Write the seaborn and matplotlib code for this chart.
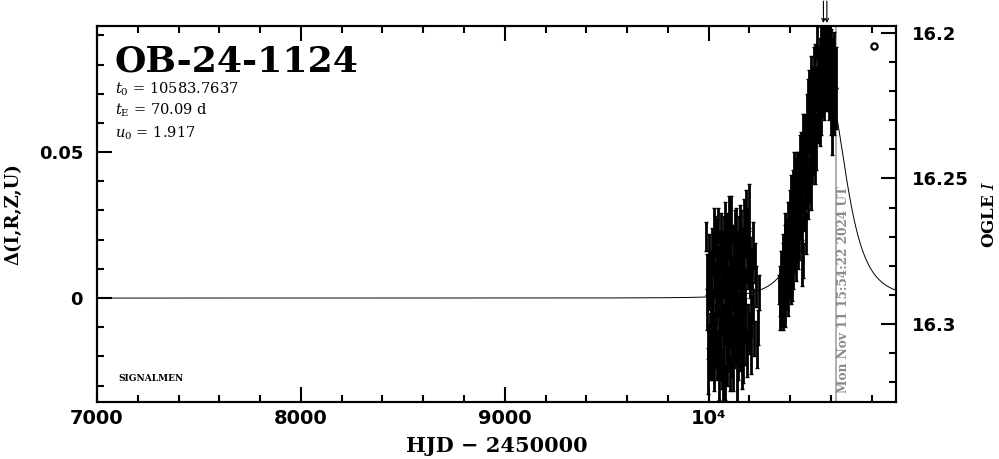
import numpy as np
import pandas as pd
import seaborn as sns
import matplotlib
matplotlib.use("Agg")
import matplotlib.pyplot as plt
from matplotlib.ticker import MultipleLocator, FixedLocator, FixedFormatter
import matplotlib.transforms as mtransforms

# ---------------- data ----------------
event_name = "OB-24-1124"
t0 = 10583.7637
tE = 70.09
u0 = 1.917
date_stamp = "Mon Nov 11 15:54:22 2024 UT"
t_now = 10626.2

season1_t = [9988, 9993, 9999, 10004, 10008, 10012, 10016, 10019, 10023, 10026,
             10030, 10033, 10037, 10040, 10043, 10047, 10050, 10053, 10057, 10060,
             10063, 10066, 10069, 10072, 10075, 10078, 10081, 10084, 10087, 10090,
             10093, 10096, 10099, 10102, 10105, 10108, 10111, 10114, 10117, 10120,
             10123, 10126, 10129, 10132, 10135, 10138, 10141, 10144, 10147, 10150,
             10153, 10156, 10159, 10162, 10165, 10168, 10171, 10174, 10177, 10180,
             10184, 10188, 10192, 10196, 10200, 10205, 10210, 10216, 10223, 10231,
             10240,
             9991, 9996, 10002, 10006, 10010, 10014, 10018, 10021, 10025, 10028,
             10032, 10035, 10039, 10042, 10045, 10049, 10052, 10055, 10058, 10062,
             10065, 10068, 10071, 10074, 10077, 10080, 10083, 10086, 10089, 10092,
             10095, 10098, 10101, 10104, 10107, 10110, 10113, 10116, 10119, 10122,
             10125, 10128, 10131, 10134, 10137, 10140, 10143, 10146, 10149, 10152,
             10155, 10158, 10161, 10164, 10167, 10170, 10173, 10176, 10179, 10182,
             10186, 10190, 10194, 10198, 10202, 10207, 10213, 10219, 10227, 10236,
             10245]
season1_d = [0.021, -0.004, -0.025, 0.002, -0.012, 0.010, -0.020, 0.015, -0.003, 0.024,
             -0.016, 0.006, -0.009, 0.019, -0.022, 0.001, 0.012, -0.027, 0.008, -0.014,
             0.022, -0.005, -0.030, 0.016, -0.018, 0.003, 0.026, -0.010, 0.011, -0.023,
             0.005, 0.020, -0.007, -0.019, 0.013, 0.000, 0.027, -0.013, 0.008, -0.025,
             0.017, -0.002, 0.010, -0.017, 0.023, -0.008, 0.004, -0.021, 0.014, -0.004,
             0.025, -0.011, 0.007, -0.024, 0.018, 0.001, -0.015, 0.012, 0.021, -0.009,
             0.029, -0.020, 0.009, 0.031, -0.012, 0.015, -0.006, 0.018, -0.014, 0.004,
             -0.010,
             0.008, -0.015, 0.014, -0.021, 0.004, -0.008, 0.018, -0.013, 0.009, -0.026,
             0.021, -0.001, -0.017, 0.011, 0.025, -0.011, 0.005, 0.017, -0.021, -0.002,
             0.013, -0.024, 0.006, 0.020, -0.009, -0.029, 0.014, 0.002, 0.023, -0.015,
             -0.004, 0.010, 0.028, -0.026, 0.016, -0.011, 0.004, -0.020, 0.019, 0.007,
             -0.016, 0.024, -0.005, 0.002, -0.028, 0.016, 0.009, -0.013, 0.020, -0.019,
             0.006, -0.003, 0.022, -0.010, 0.011, -0.022, 0.026, -0.006, 0.003, -0.017,
             0.013, 0.024, -0.008, 0.017, 0.006, -0.018, 0.010, -0.003, 0.012, -0.016,
             0.002]
season1_e = [0.005, 0.007, 0.008, 0.006, 0.007, 0.006, 0.008, 0.007, 0.006, 0.007,
             0.008, 0.006, 0.007, 0.008, 0.006, 0.007, 0.006, 0.008, 0.007, 0.006,
             0.007, 0.008, 0.006, 0.007, 0.008, 0.006, 0.007, 0.006, 0.008, 0.007,
             0.006, 0.007, 0.008, 0.006, 0.007, 0.006, 0.008, 0.007, 0.006, 0.007,
             0.008, 0.006, 0.007, 0.006, 0.008, 0.007, 0.006, 0.007, 0.008, 0.006,
             0.007, 0.006, 0.008, 0.007, 0.006, 0.007, 0.008, 0.006, 0.007, 0.006,
             0.008, 0.007, 0.006, 0.008, 0.007, 0.006, 0.007, 0.008, 0.006, 0.007,
             0.006,
             0.007, 0.006, 0.008, 0.007, 0.006, 0.007, 0.006, 0.008, 0.007, 0.006,
             0.007, 0.008, 0.006, 0.007, 0.006, 0.008, 0.007, 0.006, 0.007, 0.008,
             0.006, 0.007, 0.006, 0.008, 0.007, 0.006, 0.007, 0.008, 0.006, 0.007,
             0.006, 0.008, 0.007, 0.006, 0.007, 0.006, 0.008, 0.007, 0.006, 0.007,
             0.008, 0.006, 0.007, 0.006, 0.008, 0.007, 0.006, 0.007, 0.008, 0.006,
             0.007, 0.006, 0.008, 0.007, 0.006, 0.007, 0.008, 0.006, 0.007, 0.006,
             0.008, 0.007, 0.006, 0.007, 0.006, 0.008, 0.007, 0.006, 0.007, 0.008,
             0.006]

season2_t = [10346, 10349, 10353, 10356, 10360, 10363, 10367, 10370, 10374, 10377,
             10381, 10384, 10388, 10391, 10395, 10398, 10402, 10405, 10409, 10412,
             10416, 10419, 10423, 10426, 10430, 10433, 10437, 10440, 10444, 10447,
             10451, 10454, 10458, 10461, 10465, 10468, 10472, 10475, 10479, 10482,
             10486, 10489, 10493, 10496, 10500, 10503, 10507, 10510, 10514, 10517,
             10521, 10524, 10528, 10531, 10535, 10538, 10542, 10545, 10549, 10552,
             10556, 10559, 10563, 10566, 10570, 10573, 10577, 10580, 10584, 10587,
             10591, 10594, 10598, 10601, 10605, 10609, 10613, 10618, 10623,
             10348, 10351, 10355, 10358, 10362, 10365, 10369, 10372, 10376, 10379,
             10383, 10386, 10390, 10393, 10397, 10400, 10404, 10407, 10411, 10414,
             10418, 10421, 10425, 10428, 10432, 10435, 10439, 10442, 10446, 10449,
             10453, 10456, 10460, 10463, 10467, 10470, 10474, 10477, 10481, 10484,
             10488, 10491, 10495, 10498, 10502, 10505, 10509, 10512, 10516, 10519,
             10523, 10526, 10530, 10533, 10537, 10540, 10544, 10547, 10551, 10554,
             10558, 10561, 10565, 10568, 10572, 10575, 10579, 10582, 10586, 10589,
             10593, 10596, 10600, 10603, 10607, 10611, 10616, 10620, 10625]
season2_d = [0.003, -0.005, 0.009, -0.002, 0.006, -0.004, 0.016, -0.001, 0.023, -0.002,
             0.014, 0.007, 0.027, 0.001, 0.021, 0.006, 0.035, 0.004, 0.021, 0.032,
             0.011, 0.043, 0.018, 0.034, 0.012, 0.032, 0.021, 0.044, 0.020, 0.039,
             0.031, 0.051, 0.012, 0.048, 0.013, 0.043, 0.032, 0.056, 0.039, 0.064,
             0.034, 0.056, 0.071, 0.042, 0.063, 0.037, 0.058, 0.072, 0.048, 0.070,
             0.055, 0.081, 0.051, 0.070, 0.079, 0.059, 0.077, 0.066, 0.087, 0.063,
             0.084, 0.076, 0.097, 0.067, 0.086, 0.079, 0.073, 0.100, 0.070, 0.085,
             0.074, 0.088, 0.064, 0.077, 0.056, 0.077, 0.063, 0.077, 0.065,
             0.000, 0.006, -0.004, 0.009, 0.003, 0.012, 0.001, 0.010, 0.018, 0.004,
             0.020, 0.002, 0.015, 0.026, 0.011, 0.030, 0.014, 0.024, 0.007, 0.038,
             0.026, 0.015, 0.040, 0.023, 0.044, 0.029, 0.016, 0.035, 0.048, 0.026,
             0.041, 0.022, 0.036, 0.055, 0.029, 0.049, 0.040, 0.022, 0.052, 0.045,
             0.068, 0.039, 0.060, 0.050, 0.075, 0.046, 0.064, 0.055, 0.080, 0.062,
             0.047, 0.073, 0.060, 0.088, 0.068, 0.074, 0.058, 0.082, 0.072, 0.090,
             0.068, 0.080, 0.088, 0.074, 0.092, 0.070, 0.083, 0.076, 0.090, 0.068,
             0.080, 0.072, 0.086, 0.070, 0.082, 0.068, 0.084, 0.072, 0.079]
season2_e = [0.005, 0.006, 0.007, 0.006, 0.005, 0.007, 0.006, 0.007, 0.006, 0.008,
             0.006, 0.007, 0.006, 0.007, 0.008, 0.006, 0.007, 0.006, 0.007, 0.006,
             0.008, 0.007, 0.006, 0.007, 0.006, 0.008, 0.007, 0.006, 0.007, 0.006,
             0.007, 0.006, 0.008, 0.007, 0.006, 0.007, 0.006, 0.007, 0.008, 0.006,
             0.007, 0.006, 0.007, 0.006, 0.008, 0.007, 0.006, 0.007, 0.006, 0.007,
             0.008, 0.006, 0.007, 0.006, 0.007, 0.006, 0.008, 0.007, 0.006, 0.007,
             0.006, 0.007, 0.008, 0.006, 0.007, 0.006, 0.007, 0.008, 0.006, 0.007,
             0.006, 0.007, 0.008, 0.006, 0.007, 0.006, 0.007, 0.006, 0.007,
             0.006, 0.005, 0.006, 0.007, 0.006, 0.007, 0.006, 0.008, 0.007, 0.006,
             0.007, 0.006, 0.008, 0.007, 0.006, 0.007, 0.006, 0.007, 0.008, 0.006,
             0.007, 0.006, 0.008, 0.007, 0.006, 0.007, 0.006, 0.007, 0.008, 0.006,
             0.007, 0.006, 0.007, 0.008, 0.006, 0.007, 0.006, 0.007, 0.006, 0.008,
             0.007, 0.006, 0.007, 0.006, 0.008, 0.007, 0.006, 0.007, 0.006, 0.007,
             0.008, 0.006, 0.007, 0.006, 0.007, 0.008, 0.006, 0.007, 0.006, 0.007,
             0.006, 0.008, 0.007, 0.006, 0.007, 0.006, 0.007, 0.008, 0.006, 0.007,
             0.006, 0.007, 0.006, 0.008, 0.007, 0.006, 0.007, 0.006, 0.007]

offscale_t = [10563, 10580]
legend_point = (10811, 0.0862)

x_ticks = [7000, 8000, 9000, 10000]
x_tick_labels = ["7000", "8000", "9000", "10⁴"]
y_ticks = [0.0, 0.05]
y_tick_labels = ["0", "0.05"]
mag_ticks = [16.2, 16.25, 16.3]
mag_tick_labels = ["16.2", "16.25", "16.3"]

# ---------------- style ----------------
sns.set_style("ticks")
plt.rcParams["font.family"] = ["DejaVu Serif", "DejaVu Sans"]
plt.rcParams["mathtext.fontset"] = "dejavuserif"
for k in ["text.color", "axes.labelcolor", "xtick.color", "ytick.color",
          "axes.edgecolor"]:
    plt.rcParams[k] = "black"

fig = plt.figure(figsize=(9.99, 4.59), dpi=100)
ax = fig.add_axes([0.0971, 0.1242, 0.8000, 0.8192])

# model light curve from the event parameters
tt = np.linspace(7000, 10925, 4000)
uu = np.sqrt(u0 ** 2 + ((tt - t0) / tE) ** 2)
amp = (uu ** 2 + 2) / (uu * np.sqrt(uu ** 2 + 4))
model = pd.DataFrame({"t": tt, "d": 2.5 * np.log10(amp)})
sns.lineplot(data=model, x="t", y="d", ax=ax, color="black", lw=0.7,
             estimator=None, sort=False, zorder=3)

obs = pd.DataFrame({"t": season1_t + season2_t,
                    "d": season1_d + season2_d,
                    "e": season1_e + season2_e})
ax.errorbar(obs["t"], obs["d"], yerr=obs["e"], fmt="none", ecolor="black",
            elinewidth=2.0, capsize=1.6, capthick=1.0, zorder=4)

ax.axvline(t_now, color="#9a9a9a", lw=1.1, zorder=2)
ax.text(10663, -0.0325, date_stamp, rotation=90, ha="center", va="bottom",
        color="#8a8a8a", fontsize=8.7, fontweight="bold", family="DejaVu Serif")

ax.plot([legend_point[0]], [legend_point[1]], marker="o", mfc="none", mec="black",
        ms=4.5, mew=1.6, ls="none")

trans = mtransforms.blended_transform_factory(ax.transData, ax.transAxes)
for t in offscale_t:
    ax.annotate("", xy=(t, 1.008), xycoords=trans, xytext=(t, 1.066),
                textcoords=trans, annotation_clip=False,
                arrowprops=dict(arrowstyle="->", lw=0.8, color="black",
                                mutation_scale=6, shrinkA=0, shrinkB=0))

ax.set_xlim(7000, 10920)
ax.set_ylim(-0.0356, 0.0932)

# text annotations
ax.text(0.0225, 0.880, event_name, transform=ax.transAxes, fontsize=26,
        ha="left", va="baseline", family="DejaVu Serif", fontweight="bold")
ax.text(0.0225, 0.820, r"$t_0$ = 10583.7637", transform=ax.transAxes,
        fontsize=10.5, ha="left", va="baseline")
ax.text(0.0225, 0.765, r"$t_\mathrm{E}$ = 70.09 d", transform=ax.transAxes,
        fontsize=10.5, ha="left", va="baseline")
ax.text(0.0225, 0.703, r"$u_0$ = 1.917", transform=ax.transAxes,
        fontsize=10.5, ha="left", va="baseline")
ax.text(0.027, 0.055, "SIGNALMEN", transform=ax.transAxes, fontsize=6.5,
        ha="left", va="baseline", fontweight="bold")

# axes formatting
for s in ax.spines.values():
    s.set_linewidth(1.5)
    s.set_color("black")
    s.set_visible(True)

ax.xaxis.set_major_locator(FixedLocator(x_ticks))
ax.xaxis.set_major_formatter(FixedFormatter(x_tick_labels))
ax.xaxis.set_minor_locator(MultipleLocator(200))
ax.yaxis.set_major_locator(FixedLocator(y_ticks))
ax.yaxis.set_major_formatter(FixedFormatter(y_tick_labels))
ax.yaxis.set_minor_locator(MultipleLocator(0.01))
ax.tick_params(axis="both", which="both", direction="in", width=1.5,
               color="black", top=True, bottom=True, left=True, right=False)
ax.tick_params(axis="both", which="major", length=10.5)
ax.tick_params(axis="both", which="minor", length=5)
ax.tick_params(axis="x", which="major", pad=5, labelsize=14)
ax.tick_params(axis="y", which="major", pad=10, labelsize=13)
for lab in ax.get_xticklabels() + ax.get_yticklabels():
    lab.set_fontweight("bold")
    lab.set_family("DejaVu Sans")

ax.set_xlabel("HJD − 2450000", fontsize=15, fontweight="bold", labelpad=6)
ax.set_ylabel("Δ(I,R,Z,U)", fontsize=13, fontweight="bold", labelpad=12)

ax2 = ax.twinx()
ax2.set_ylim(16.3268, 16.1976)
ax2.yaxis.set_major_locator(FixedLocator(mag_ticks))
ax2.yaxis.set_major_formatter(FixedFormatter(mag_tick_labels))
ax2.yaxis.set_minor_locator(MultipleLocator(0.01))
ax2.tick_params(axis="y", which="both", direction="in", width=1.5, color="black",
                left=False, right=True)
ax2.tick_params(axis="y", which="major", length=10.5, pad=11, labelsize=13)
ax2.tick_params(axis="y", which="minor", length=5)
for lab in ax2.get_yticklabels():
    lab.set_fontweight("bold")
    lab.set_family("DejaVu Sans")
for s in ax2.spines.values():
    s.set_linewidth(1.5)
ax2.set_ylabel(r"OGLE $I$", fontsize=12, fontweight="bold", labelpad=9)

fig.savefig("out.png", dpi=100, facecolor="white")
